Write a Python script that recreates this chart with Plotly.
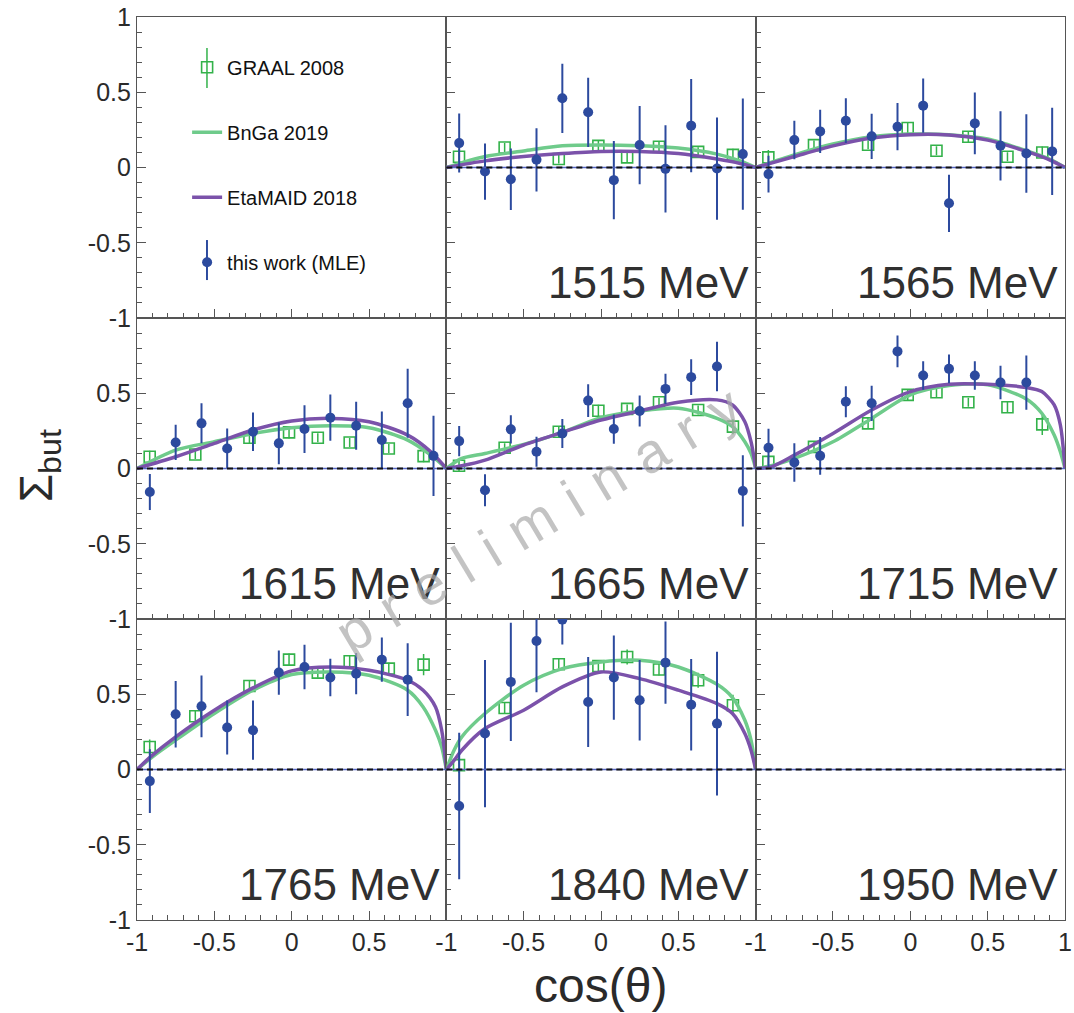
import numpy as np
import plotly.graph_objects as go
from plotly.subplots import make_subplots

# ---------------- data ----------------
energies = ["1515 MeV", "1565 MeV", "1615 MeV", "1665 MeV", "1715 MeV",
            "1765 MeV", "1840 MeV", "1950 MeV"]

cos_bins = [-0.917, -0.75, -0.583, -0.417, -0.25, -0.083,
            0.083, 0.25, 0.417, 0.583, 0.75, 0.917]
graal_cos = [-0.918, -0.623, -0.273, -0.017, 0.169, 0.375, 0.628, 0.853]

# this work (MLE)
mle_1515 = [0.162, -0.027, -0.078, 0.051, 0.46, 0.367, -0.084, 0.149, -0.009, 0.278, -0.007, 0.089]
mle_err_1515 = [0.196, 0.187, 0.205, 0.21, 0.23, 0.23, 0.26, 0.26, 0.29, 0.31, 0.34, 0.37]
mle_1565 = [-0.044, 0.182, 0.24, 0.311, 0.207, 0.271, 0.411, -0.238, 0.293, 0.144, 0.093, 0.107]
mle_err_1565 = [0.122, 0.128, 0.144, 0.149, 0.15, 0.157, 0.18, 0.19, 0.205, 0.23, 0.26, 0.29]
mle_1615 = [-0.156, 0.173, 0.3, 0.133, 0.244, 0.167, 0.262, 0.338, 0.284, 0.189, 0.433, 0.084]
mle_err_1615 = [0.12, 0.117, 0.133, 0.133, 0.128, 0.139, 0.159, 0.153, 0.159, 0.19, 0.229, 0.267]
mle_1665 = [0.182, -0.144, 0.26, 0.111, 0.233, 0.451, 0.262, 0.382, 0.529, 0.607, 0.678, -0.149]
mle_err_1665 = [0.1, 0.106, 0.094, 0.1, 0.096, 0.108, 0.097, 0.103, 0.1, 0.119, 0.164, 0.237]
mle_1715 = [0.138, 0.04, 0.084, 0.444, 0.433, 0.778, 0.618, 0.662, 0.618, 0.571, 0.571]
mle_err_1715 = [0.126, 0.128, 0.126, 0.103, 0.117, 0.106, 0.094, 0.096, 0.094, 0.111, 0.18]
mle_1765 = [-0.077, 0.367, 0.42, 0.279, 0.261, 0.644, 0.681, 0.611, 0.637, 0.73, 0.597]
mle_err_1765 = [0.212, 0.221, 0.205, 0.179, 0.197, 0.147, 0.148, 0.125, 0.137, 0.147, 0.242]
mle_1840 = [-0.243, 0.239, 0.582, 0.854, 0.996, 0.449, 0.611, 0.46, 0.71, 0.431, 0.305]
mle_err_1840 = [0.487, 0.489, 0.393, 0.34, 0.165, 0.299, 0.28, 0.268, 0.273, 0.304, 0.478]

# GRAAL 2008
graal_1515 = [0.071, 0.133, 0.056, 0.144, 0.067, 0.138, 0.104, 0.084]
graal_err_1515 = [0.05, 0.03, 0.03, 0.035, 0.03, 0.035, 0.03, 0.04]
graal_1565 = [0.067, 0.149, 0.151, 0.262, 0.111, 0.204, 0.071, 0.1]
graal_err_1565 = [0.05, 0.03, 0.03, 0.04, 0.03, 0.035, 0.03, 0.04]
graal_1615 = [0.078, 0.093, 0.204, 0.24, 0.204, 0.173, 0.133, 0.082]
graal_err_1615 = [0.04, 0.03, 0.035, 0.04, 0.03, 0.03, 0.03, 0.04]
graal_1665 = [0.018, 0.138, 0.244, 0.384, 0.396, 0.44, 0.389, 0.278]
graal_err_1665 = [0.04, 0.03, 0.035, 0.04, 0.03, 0.03, 0.03, 0.05]
graal_1715 = [0.044, 0.144, 0.3, 0.489, 0.507, 0.44, 0.407, 0.293]
graal_err_1715 = [0.04, 0.03, 0.035, 0.04, 0.035, 0.03, 0.035, 0.07]
graal_1765 = [0.15, 0.354, 0.555, 0.73, 0.644, 0.719, 0.67, 0.697]
graal_err_1765 = [0.05, 0.035, 0.035, 0.04, 0.035, 0.035, 0.04, 0.07]
graal_1840 = [0.029, 0.409, 0.699, 0.688, 0.748, 0.664, 0.593, 0.427]
graal_err_1840 = [0.05, 0.04, 0.04, 0.04, 0.05, 0.04, 0.05, 0.07]

# model curves (BnGa 2019, EtaMAID 2018)
curve_cos_a = [-1, -0.75, -0.5, -0.25, 0, 0.25, 0.5, 0.75, 0.9, 1]
curve_cos_b = [-1, -0.9, -0.75, -0.5, -0.25, 0, 0.25, 0.5, 0.75, 0.85, 0.93, 0.97, 1]
curve_cos_c = [-1, -0.95, -0.9, -0.75, -0.5, -0.25, 0, 0.25, 0.5, 0.75, 0.85, 0.93, 0.97, 1]

bnga_1515 = [0, 0.073, 0.11, 0.144, 0.149, 0.144, 0.129, 0.089, 0.044, 0]
maid_1515 = [0, 0.044, 0.073, 0.093, 0.107, 0.107, 0.093, 0.056, 0.027, 0]
bnga_1565 = [0, 0.084, 0.156, 0.204, 0.222, 0.218, 0.189, 0.111, 0.056, 0]
maid_1565 = [0, 0.073, 0.144, 0.196, 0.218, 0.216, 0.182, 0.107, 0.051, 0]
bnga_1615 = [0, 0.122, 0.178, 0.233, 0.271, 0.284, 0.271, 0.189, 0.089, 0]
maid_1615 = [0, 0.078, 0.167, 0.256, 0.316, 0.333, 0.311, 0.222, 0.111, 0]
bnga_1665 = [0, 0.067, 0.1, 0.16, 0.24, 0.338, 0.382, 0.4, 0.333, 0.278, 0.178, 0.1, 0]
maid_1665 = [0, 0.018, 0.056, 0.156, 0.24, 0.322, 0.382, 0.44, 0.456, 0.422, 0.311, 0.178, 0]
bnga_1715 = [0, 0.018, 0.067, 0.178, 0.333, 0.489, 0.551, 0.556, 0.462, 0.367, 0.222, 0.111, 0]
maid_1715 = [0, 0.011, 0.089, 0.233, 0.389, 0.511, 0.56, 0.56, 0.538, 0.511, 0.422, 0.289, 0]
bnga_1765 = [0, 0.084, 0.195, 0.372, 0.527, 0.631, 0.648, 0.626, 0.527, 0.416, 0.261, 0.15, 0]
maid_1765 = [0, 0.095, 0.217, 0.394, 0.542, 0.655, 0.681, 0.659, 0.593, 0.527, 0.416, 0.261, 0]
bnga_1840 = [0, 0.128, 0.217, 0.372, 0.56, 0.67, 0.715, 0.726, 0.681, 0.566, 0.478, 0.327, 0.195, 0]
maid_1840 = [0, 0.06, 0.128, 0.272, 0.394, 0.549, 0.648, 0.604, 0.527, 0.438, 0.372, 0.239, 0.128, 0]

panels = [
    (energies[0], mle_1515, mle_err_1515, graal_1515, graal_err_1515, curve_cos_a, bnga_1515, maid_1515),
    (energies[1], mle_1565, mle_err_1565, graal_1565, graal_err_1565, curve_cos_a, bnga_1565, maid_1565),
    (energies[2], mle_1615, mle_err_1615, graal_1615, graal_err_1615, curve_cos_a, bnga_1615, maid_1615),
    (energies[3], mle_1665, mle_err_1665, graal_1665, graal_err_1665, curve_cos_b, bnga_1665, maid_1665),
    (energies[4], mle_1715, mle_err_1715, graal_1715, graal_err_1715, curve_cos_b, bnga_1715, maid_1715),
    (energies[5], mle_1765, mle_err_1765, graal_1765, graal_err_1765, curve_cos_b, bnga_1765, maid_1765),
    (energies[6], mle_1840, mle_err_1840, graal_1840, graal_err_1840, curve_cos_c, bnga_1840, maid_1840),
    (energies[7], None, None, None, None, None, None, None),
]

# ---------------- style ----------------
C_GRAAL = "#33b24a"
C_BNGA = "#6fcb8b"
C_MAID = "#7b52aa"
C_MLE = "#2c4a9e"
C_ZERO_BLUE = "#5566c4"
FONT = "Liberation Sans, Arial, Helvetica, sans-serif"
TXT = "#2a2a2a"
AX = "#555555"

fig = make_subplots(rows=3, cols=3, horizontal_spacing=0, vertical_spacing=0)

# placeholder traces so that every subplot (incl. legend panel and 1950 MeV) is drawn
for (r, c) in [(1, 1), (3, 3)]:
    fig.add_trace(go.Scatter(x=[None], y=[None], mode="markers", showlegend=False,
                             hoverinfo="skip"), row=r, col=c)

positions = [(1, 2), (1, 3), (2, 1), (2, 2), (2, 3), (3, 1), (3, 2), (3, 3)]

for i, (label, mle, mle_err, graal, graal_err, ccos, bnga, maid) in enumerate(panels):
    r, c = positions[i]
    first = (i == 0)
    if mle is not None:
        fig.add_trace(go.Scatter(
            x=graal_cos, y=graal, mode="markers", name="GRAAL 2008",
            legendgroup="g1", showlegend=first,
            marker=dict(symbol="square-open", size=11, color=C_GRAAL, line=dict(width=1.6, color=C_GRAAL)),
            error_y=dict(type="data", array=graal_err, color=C_GRAAL, thickness=1.5, width=0),
        ), row=r, col=c)
        fig.add_trace(go.Scatter(
            x=ccos, y=bnga, mode="lines", name="BnGa 2019",
            legendgroup="g2", showlegend=first,
            line=dict(color=C_BNGA, width=3.5, shape="spline", smoothing=0.8),
        ), row=r, col=c)
        fig.add_trace(go.Scatter(
            x=ccos, y=maid, mode="lines", name="EtaMAID 2018",
            legendgroup="g3", showlegend=first,
            line=dict(color=C_MAID, width=3.5, shape="spline", smoothing=0.8),
        ), row=r, col=c)
        fig.add_trace(go.Scatter(
            x=cos_bins[:len(mle)], y=mle, mode="markers", name="this work (MLE)",
            legendgroup="g4", showlegend=first,
            marker=dict(symbol="circle", size=10, color=C_MLE),
            error_y=dict(type="data", array=mle_err, color=C_MLE, thickness=2, width=0),
        ), row=r, col=c)
    # zero reference lines
    fig.add_hline(y=0, row=r, col=c, exclude_empty_subplots=False,
                  line=dict(color=C_ZERO_BLUE, width=1.5))
    fig.add_hline(y=0, row=r, col=c, exclude_empty_subplots=False,
                  line=dict(color="#111111", width=2, dash="6px,4px"))
    # energy label
    axn = (r - 1) * 3 + c
    fig.add_annotation(text=label, xref=f"x{axn} domain", yref=f"y{axn} domain",
                       x=0.985, y=0.03, xanchor="right", yanchor="bottom", showarrow=False,
                       font=dict(family=FONT, size=44, color="#303030"))

minor_vals = [round(v, 1) for v in np.arange(-1.0, 1.0001, 0.1)]


def fmt(v):
    return ("-" + str(abs(v))) if v < 0 else str(v)


for r in range(1, 4):
    for c in range(1, 4):
        xt = [-1, -0.5, 0, 0.5, 1] if c == 3 else [-1, -0.5, 0, 0.5]
        fig.update_xaxes(row=r, col=c, range=[-1, 1], showgrid=False, zeroline=False,
                         automargin=False,
                         showline=True, mirror=True, linecolor=AX, linewidth=1.2,
                         ticks="inside", ticklen=9, tickwidth=1.2, tickcolor=AX,
                         tickmode="array", tickvals=xt, ticktext=[fmt(v) for v in xt],
                         showticklabels=(r == 3),
                         tickfont=dict(family=FONT, size=25, color=TXT),
                         minor=dict(tickvals=minor_vals, ticks="inside", ticklen=5,
                                    tickwidth=1, tickcolor=AX))
        yt = [-1, -0.5, 0, 0.5, 1] if r == 1 else [-1, -0.5, 0, 0.5]
        fig.update_yaxes(row=r, col=c, range=[-1, 1], showgrid=False, zeroline=False,
                         automargin=False,
                         showline=True, mirror=True, linecolor=AX, linewidth=1.2,
                         ticks="inside", ticklen=9, tickwidth=1.2, tickcolor=AX,
                         tickmode="array", tickvals=yt, ticktext=[fmt(v) for v in yt],
                         showticklabels=(c == 1),
                         tickfont=dict(family=FONT, size=25, color=TXT),
                         minor=dict(tickvals=minor_vals, ticks="inside", ticklen=5,
                                    tickwidth=1, tickcolor=AX))

# axis titles
fig.add_annotation(text="Σ<sub>but</sub>", xref="paper", yref="paper", x=-0.105, y=0.503,
                   xanchor="center", yanchor="middle", showarrow=False, textangle=-90,
                   font=dict(family=FONT, size=46, color=TXT))
fig.add_annotation(text="cos(θ)", xref="paper", yref="paper", x=0.499, y=-0.072,
                   xanchor="center", yanchor="middle", showarrow=False,
                   font=dict(family=FONT, size=48, color=TXT))

# watermark
wm = "\u2004".join(list("preliminary"))
fig.add_annotation(text=wm, xref="paper", yref="paper", x=0.4325, y=0.443,
                   xanchor="center", yanchor="middle", showarrow=False, textangle=-31,
                   font=dict(family=FONT, size=56, color="rgba(170,170,170,0.7)"))

# vertical error-bar strokes on the legend symbols
for (y0, y1, col, w) in [(0.9657, 0.9214, C_GRAAL, 1.5), (0.7530, 0.7087, C_MLE, 2)]:
    fig.add_shape(type="line", xref="paper", yref="paper", x0=0.0754, x1=0.0754,
                  y0=y0, y1=y1, line=dict(color=col, width=w))

fig.update_layout(
    width=1074, height=1013,
    margin=dict(l=137, r=9, t=17, b=93),
    paper_bgcolor="white", plot_bgcolor="white",
    showlegend=True,
    legend=dict(x=0.054, y=0.966, xanchor="left", yanchor="top",
                bgcolor="rgba(0,0,0,0)", tracegroupgap=36,
                font=dict(family=FONT, size=20, color="#111")),
)

fig.write_html("out.html")
